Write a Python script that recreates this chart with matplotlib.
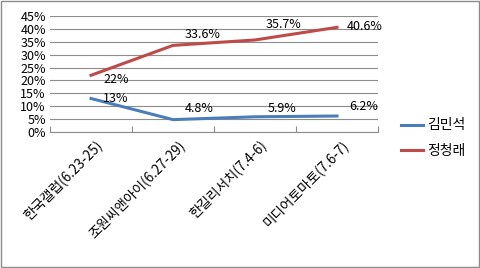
import matplotlib
matplotlib.use('Agg')
import matplotlib.pyplot as plt
from matplotlib.patches import Rectangle

plt.rcParams['font.family'] = ['Noto Sans CJK KR', 'DejaVu Sans']

categories = ['한국갤럽(6.23-25)', '조원씨앤아이(6.27-29)', '한길리서치(7.4-6)', '미디어토마토(7.6-7)']
kim = [13, 4.8, 5.9, 6.2]
jung = [22, 33.6, 35.7, 40.6]
kim_labels = ['13%', '4.8%', '5.9%', '6.2%']
jung_labels = ['22%', '33.6%', '35.7%', '40.6%']
yticks = [0, 5, 10, 15, 20, 25, 30, 35, 40, 45]

blue = '#4A7EBB'
red = '#BE4B48'

fig = plt.figure(figsize=(4.81, 2.68), dpi=100)
fig.patches.append(Rectangle((0.002, 0.004), 0.994, 0.992, transform=fig.transFigure,
                             fill=False, edgecolor='#8C8C8C', linewidth=1))
ax = fig.add_axes([50 / 481, 1 - 132 / 268, 328 / 481, 116 / 268])

x = range(len(categories))
ax.plot(x, kim, color=blue, linewidth=2.2, label='김민석')
ax.plot(x, jung, color=red, linewidth=2.2, label='정청래')

ax.set_xlim(-0.5, 3.5)
ax.set_ylim(0, 45)
ax.set_yticks(yticks)
ax.set_yticklabels([f'{v}%' for v in yticks], fontsize=9)
ax.yaxis.grid(True, color='#8C8C8C', linewidth=0.8)
ax.set_axisbelow(True)
for s in ['top', 'right', 'left']:
    ax.spines[s].set_visible(False)
ax.spines['bottom'].set_color('#8C8C8C')
ax.tick_params(axis='y', length=0, pad=3)

ax.set_xticks([-0.5, 0.5, 1.5, 2.5, 3.5])
ax.set_xticklabels([])
ax.tick_params(axis='x', length=4, color='#8C8C8C', direction='in')
for i, c in enumerate(categories):
    ax.text(i + 0.06, -2.5, c, rotation=45, ha='right', va='top', fontsize=9.8,
            rotation_mode='anchor')

# data labels, offsets in pixels
px = 0.72
kim_off = [(12, 0), (12, 11), (13, 8), (12, 10)]
jung_off = [(12, -4), (12, 11), (11, 15), (10, 1)]
for i in x:
    ax.annotate(kim_labels[i], (i, kim[i]), xytext=(kim_off[i][0] * px, kim_off[i][1] * px),
                textcoords='offset points', fontsize=9, va='center', ha='left')
    ax.annotate(jung_labels[i], (i, jung[i]), xytext=(jung_off[i][0] * px, jung_off[i][1] * px),
                textcoords='offset points', fontsize=9, va='center', ha='left')

fig.legend(loc='upper left', bbox_to_anchor=(388 / 481, 1 - 106 / 268), frameon=False,
           fontsize=10, handlelength=1.6, handletextpad=0.3, labelspacing=0.8)

fig.savefig('out.png', dpi=100)
